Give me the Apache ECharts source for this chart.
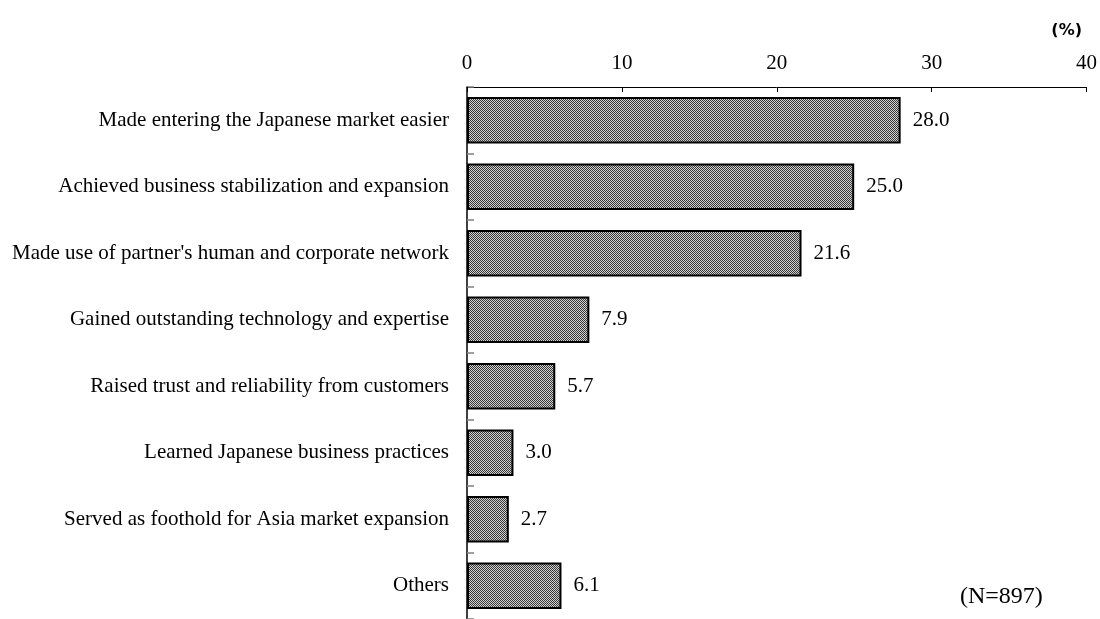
<!DOCTYPE html>
<html>
<head>
<meta charset="utf-8">
<style>
  html, body { margin: 0; padding: 0; background: #fff; }
  #chart { width: 1100px; height: 619px; }
</style>
<script src="https://cdn.jsdelivr.net/npm/echarts@6/dist/echarts.min.js"></script>
</head>
<body>
<div id="chart"></div>
<script>
// Reasons given for the benefits of the partnership (%)
const categories = [
  "Made entering the Japanese market easier",
  "Achieved business stabilization and expansion",
  "Made use of partner's human and corporate network",
  "Gained outstanding technology and expertise",
  "Raised trust and reliability from customers",
  "Learned Japanese business practices",
  "Served as foothold for Asia market expansion",
  "Others"
];
const values = [28.0, 25.0, 21.6, 7.9, 5.7, 3.0, 2.7, 6.1];
const axisTicks = [0, 10, 20, 30, 40];
const sampleNote = "(N=897)";
const unitNote = "(%)";

// Fine checkerboard fill used for the bars
function makeChecker() {
  const c = document.createElement('canvas');
  c.width = 2; c.height = 2;
  const g = c.getContext('2d');
  g.fillStyle = '#d0d0d0'; g.fillRect(0, 0, 2, 2);
  g.fillStyle = '#383838';
  g.fillRect(0, 0, 1, 1);
  g.fillRect(1, 1, 1, 1);
  return c;
}

const serif = '"Liberation Serif", "Times New Roman", serif';
const chart = echarts.init(document.getElementById('chart'), null, { renderer: 'canvas' });

chart.setOption({
  animation: false,
  backgroundColor: '#fff',
  grid: { left: 467, right: 13, top: 87, height: 540, containLabel: false },
  xAxis: {
    type: 'value',
    position: 'top',
    min: axisTicks[0],
    max: axisTicks[axisTicks.length - 1],
    interval: 10,
    axisLine: { show: true, lineStyle: { color: '#000', width: 1 } },
    axisTick: { show: true, inside: true, length: 5, lineStyle: { color: '#000' } },
    axisLabel: { fontFamily: serif, fontSize: 21, color: '#000', margin: 13 },
    splitLine: { show: false }
  },
  yAxis: {
    type: 'category',
    inverse: true,
    data: categories,
    axisLine: { show: true, lineStyle: { color: '#000', width: 1.5 } },
    axisTick: { show: true, inside: true, length: 7, lineStyle: { color: '#808080', width: 1.5 } },
    axisLabel: { fontFamily: serif, fontSize: 21, color: '#000', margin: 18 }
  },
  series: [{
    type: 'bar',
    data: values,
    barWidth: '70%',
    itemStyle: {
      color: { image: makeChecker(), repeat: 'repeat' },
      borderColor: '#000',
      borderWidth: 2
    },
    label: {
      show: true,
      position: 'right',
      distance: 12,
      fontFamily: serif,
      fontSize: 21,
      color: '#000',
      formatter: p => p.value.toFixed(1)
    }
  }],
  graphic: [
    {
      type: 'text',
      right: 18, top: 23,
      style: { text: unitNote, font: 'bold 16px "DejaVu Sans", sans-serif', fill: '#000' }
    },
    {
      type: 'text',
      left: 960, top: 585,
      style: { text: sampleNote, font: '24px ' + serif, fill: '#000' }
    }
  ]
});
</script>
</body>
</html>
